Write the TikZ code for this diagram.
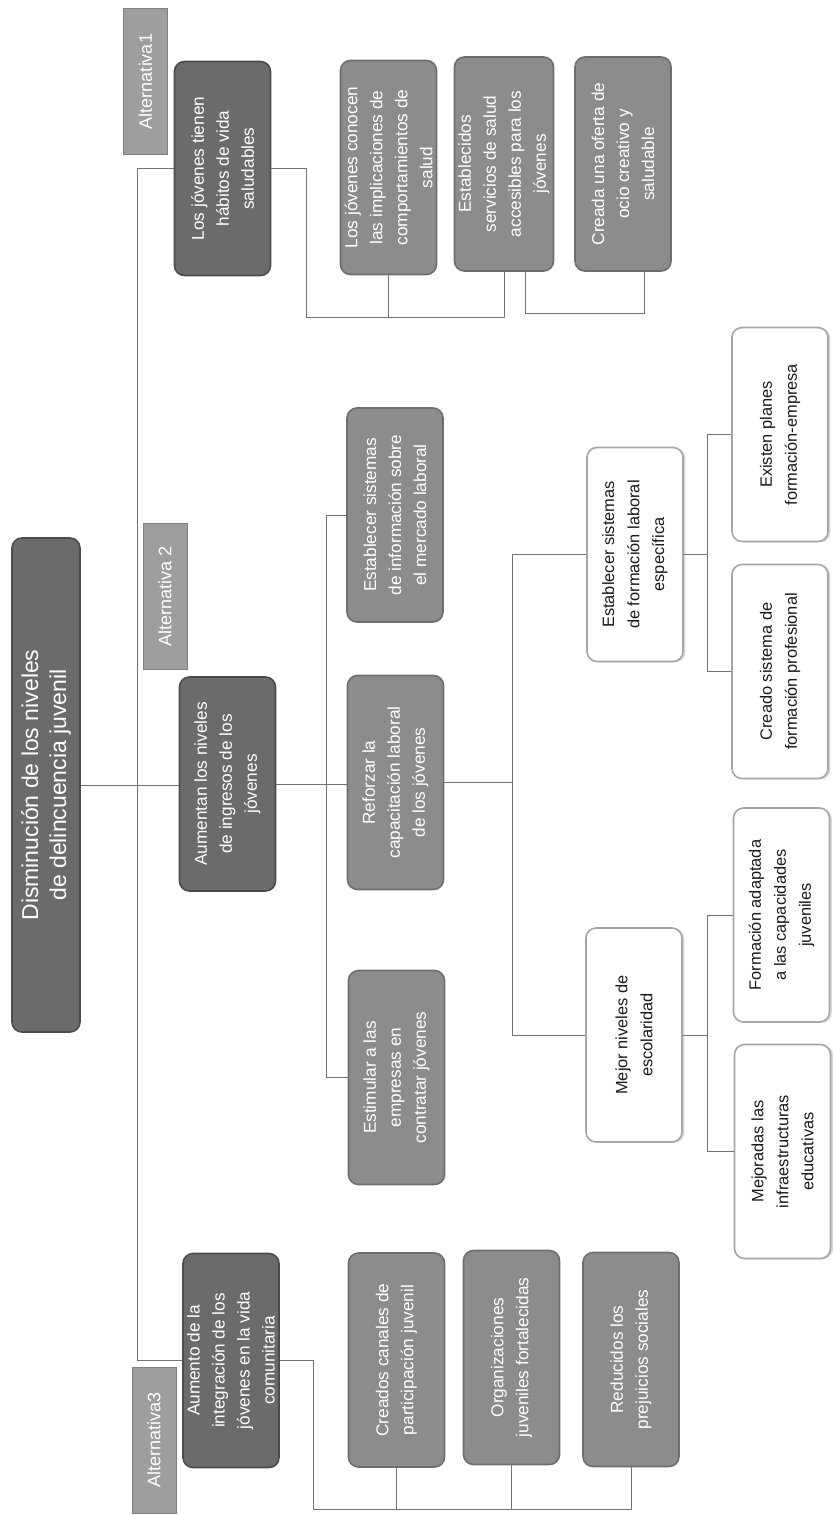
\documentclass[tikz,border=0pt]{standalone}
\usepackage{fontspec}
\setmainfont{Liberation Sans}
\usetikzlibrary{calc,shadows}

\begin{document}
\begin{tikzpicture}[x=0.5pt,y=-0.5pt,
    conn/.style={draw=black!55, line width=0.5pt},
    box/.style={rotate=90, rounded corners=5pt, align=center, inner sep=2pt,
      minimum width=107pt, minimum height=48pt, line width=0.8pt},
    lvlone/.style={box, fill=black!58, draw=black!70, text=white,
      font=\fontsize{8.6}{12.5}\selectfont},
    lvltwo/.style={box, fill=black!45, draw=black!57, text=white,
      font=\fontsize{8.6}{12.5}\selectfont},
    whitebox/.style={box, fill=white, draw=black!35, text=black!90,
      drop shadow={shadow xshift=1.2pt, shadow yshift=-0.4pt, opacity=0.3},
      font=\fontsize{8.2}{12.5}\selectfont},
    alttab/.style={rotate=90, fill=black!38, draw=black!50, text=white,
      minimum width=73pt, minimum height=22pt, inner sep=1pt,
      font=\fontsize{9}{11}\selectfont}]
  \useasboundingbox (0,0) rectangle (834,1515);
  \fill[white] (0,0) rectangle (834,1515);

  % root and alternatives
  \node[lvlone, minimum width=247pt, minimum height=34pt,
    font=\fontsize{11.5}{14}\selectfont] (title) at (46,785)
    {Disminución de los niveles\\de delincuencia juvenil};
  \node[alttab] (altone) at (145.5,81.5) {Alternativa1};
  \node[alttab] (alttwo) at (165,596.5) {Alternativa 2};
  \node[alttab] (altthree) at (154,1440) {Alternativa3};

  \node[lvlone] (A1) at (222.5,168.5) {Los jóvenes tienen\\hábitos de vida\\saludables};
  \node[lvlone] (A2) at (227.5,784) {Aumentan los niveles\\de ingresos de los\\jóvenes};
  \node[lvlone] (A3) at (231,1360.5) {Aumento de la\\integración de los\\jóvenes en la vida\\comunitaria};

  % alternativa 1
  \node[lvltwo] (B11) at (388.5,167.5) {Los jóvenes conocen\\las implicaciones de\\comportamientos de\\salud};
  \node[lvltwo] (B12) at (504,164) {Establecidos\\servicios de salud\\accesibles para los\\jóvenes};
  \node[lvltwo] (B13) at (623,164) {Creada una oferta de\\ocio creativo y\\saludable};

  % alternativa 2
  \node[lvltwo] (B21) at (395,515) {Establecer sistemas\\de información sobre\\el mercado laboral};
  \node[lvltwo] (B22) at (395.5,782.5) {Reforzar la\\capacitación laboral\\de los jóvenes};
  \node[lvltwo] (B23) at (396.5,1077.5) {Estimular a las\\empresas en\\contratar jóvenes};
  \node[whitebox] (C1) at (635,554.5) {Establecer sistemas\\de formación laboral\\específica};
  \node[whitebox] (C2) at (634,1035) {Mejor niveles de\\escolaridad};
  \node[whitebox] (D1) at (780,434.5) {Existen planes\\formación-empresa};
  \node[whitebox] (D2) at (780,671.5) {Creado sistema de\\formación profesional};
  \node[whitebox] (D3) at (781.5,915) {Formación adaptada\\a las capacidades\\juveniles};
  \node[whitebox] (D4) at (782.5,1151.5) {Mejoradas las\\infraestructuras\\educativas};

  % alternativa 3
  \node[lvltwo] (B31) at (396.5,1360) {Creados canales de\\participación juvenil};
  \node[lvltwo] (B32) at (511.5,1357.5) {Organizaciones\\juveniles fortalecidas};
  \node[lvltwo] (B33) at (631,1359.5) {Reducidos los\\prejuicios sociales};

  % connectors
  \coordinate (trunk) at (137,0);
  \draw[conn] (title.south) -- (title.south -| A2.north);
  \draw[conn] (A1.north) -- (A1.north -| trunk) -- (A3.north -| trunk) -- (A3.north);

  \coordinate (busone) at (306,317);
  \draw[conn] (A1.south) -- (A1.south -| busone) -- (busone) -- (busone -| B12.west) -- (B12.west);
  \draw[conn] (B11.west) -- (B11.west |- busone);
  \draw[conn] ($(B12.west)+(21,0)$) -- ++(0,42) -| ($(B13.west)+(21,0)$);

  \coordinate (coltwo) at (326,0);
  \coordinate (colthree) at (512,0);
  \coordinate (colfour) at (707,0);
  \draw[conn] (A2.south) -- (A2.south -| B22.north);
  \draw[conn] (B21.north) -- (B21.north -| coltwo) -- (B23.north -| coltwo) -- (B23.north);
  \draw[conn] (B22.south) -- (B22.south -| colthree);
  \draw[conn] (C1.north) -- (C1.north -| colthree) -- (C2.north -| colthree) -- (C2.north);
  \draw[conn] (C1.south) -- (C1.south -| colfour);
  \draw[conn] (D1.north) -- (D1.north -| colfour) -- (D2.north -| colfour) -- (D2.north);
  \draw[conn] (C2.south) -- (C2.south -| colfour);
  \draw[conn] (D3.north) -- (D3.north -| colfour) -- (D4.north -| colfour) -- (D4.north);

  \coordinate (busthree) at (313,1509);
  \draw[conn] (A3.south) -- (A3.south -| busthree) -- (busthree) -- (busthree -| B33.west) -- (B33.west);
  \draw[conn] (B31.west) -- (B31.west |- busthree);
  \draw[conn] (B32.west) -- (B32.west |- busthree);
\end{tikzpicture}
\end{document}
